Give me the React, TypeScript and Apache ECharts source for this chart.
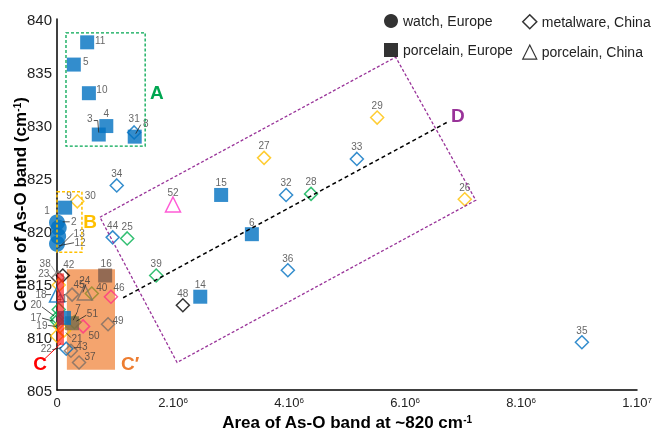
import React, { useEffect, useRef } from 'react';
import * as echarts from 'echarts';

// x values are in units of 10^6
const xTickLabels: Record<number, string> = { 0: '0', 2: '2.10{s|6}', 4: '4.10{s|6}', 6: '6.10{s|6}', 8: '8.10{s|6}', 10: '1.10{s|7}' };

type P = [string, number, number];

const watchEurope: P[] = [
  ['1', 0, 820.8], ['2', 0.03, 820.3], ['13', 0.02, 819.5], ['12', 0, 818.8],
];
const porcelainEurope: P[] = [
  ['11', 0.52, 837.8], ['5', 0.29, 835.7], ['10', 0.55, 833.0], ['3', 0.72, 829.1], ['4', 0.85, 829.9],
  ['8', 1.34, 828.9], ['15', 2.83, 823.4], ['6', 3.36, 819.7], ['14', 2.47, 813.8], ['9', 0.14, 822.2],
  ['16', 0.83, 815.8], ['7', 0.26, 811.3], ['u1', 0.12, 811.8],
];
const porcelainChina: P[] = [
  ['52', 2.0, 822.5], ['24', 0.48, 814.2], ['18', 0, 814.0],
];
const metalwareChina: P[] = [
  ['34', 1.03, 824.3], ['30', 0.35, 822.8], ['44', 0.96, 819.4], ['25', 1.21, 819.3], ['39', 1.71, 815.8],
  ['48', 2.17, 813.0], ['27', 3.57, 826.9], ['29', 5.52, 830.7], ['33', 5.17, 826.8], ['32', 3.95, 823.4],
  ['28', 4.38, 823.5], ['26', 7.03, 823.0], ['36', 3.98, 816.3], ['35', 9.05, 809.5], ['31', 1.33, 829.3],
  ['42', 0.1, 815.8], ['45', 0.26, 814.0], ['40', 0.6, 814.1], ['46', 0.93, 813.8], ['49', 0.88, 811.2],
  ['50', 0.45, 811.0], ['51', 0.3, 811.4], ['22', 0.16, 808.9], ['43', 0.24, 808.7], ['37', 0.38, 807.6],
  ['23', 0.03, 814.9], ['41', 0.03, 812.6], ['20', 0, 811.8], ['17', 0, 811.5], ['19', 0.05, 811.0],
  ['21', 0.12, 810.6], ['38', 0.02, 815.6], ['u2', 0, 810.1],
];

// ---- styling (kept apart from the data) ----
const BLUE = '#0070C0', ORANGE = '#FFC000', GREEN = '#00B050', BLACK = '#000000', GRAY = '#7A6E66',
  OLIVE = '#8C8C2A', PINK = '#FF3385', MAGENTA = '#FF33CC', BROWN = '#7B5B4C', BROWN2 = '#756A48';
const colorGroups: [string, string[]][] = [
  [BLUE, ['1', '2', '13', '12', '11', '5', '10', '3', '4', '8', '15', '6', '14', '9', 'u1', '18', '34', '44', '33', '32', '36', '35', '31', '22']],
  [ORANGE, ['30', '27', '29', '26', '23', '19', '21', 'u2']],
  [GREEN, ['25', '39', '28', '41', '20', '17']],
  [BLACK, ['48', '42']],
  [GRAY, ['45', '49', '43', '37', '38', '24']],
  [OLIVE, ['40', '51']],
  [PINK, ['46', '50']],
  [MAGENTA, ['52']],
  [BROWN, ['16']],
  [BROWN2, ['7']],
];
const colorOf: Record<string, string> = {};
colorGroups.forEach(([c, ids]) => ids.forEach((id) => (colorOf[id] = c)));

const labelOff: Record<string, [number, number]> = {
  '11': [13, -2], '5': [12, -3], '10': [13, -4], '3': [-9, -16], '4': [0, -13], '8': [11, -13], '31': [0, -14],
  '16': [1, -12], '9': [4, -12], '30': [13, -6], '1': [-10, -12], '2': [15, -6], '13': [21, -3], '12': [23, -1],
  '18': [-16, 0], '42': [6, -11], '45': [7, -10], '40': [10, -6], '46': [8, -9], '49': [10, -4], '50': [11, 9],
  '51': [18, -9], '7': [6, -15], '43': [11, -4], '37': [11, -6], '22': [-20, 0], '23': [-15, -12], '38': [-13, -14],
  '41': [3, -11], '20': [-21, -13], '17': [-21, -4], '19': [-18, -1], '21': [13, 8],
};
const leaders: Record<string, number[][]> = {
  '3': [[-5, -14], [-1, -14], [0, -2]],
  '8': [[6, -12], [1, -3]],
  '2': [[4, -6], [11, -6]],
  '13': [[0, 12], [15, -3]],
  '12': [[2, 2], [17, -1]],
  '38': [[-7, -12], [-1, -3]],
  '23': [[-10, -10], [-3, -3]],
  '18': [[-11, 0], [-6, 0]],
  '20': [[-15, -11], [-3, -2]],
  '17': [[-15, -3], [-4, 0]],
  '19': [[-12, -1], [-4, 0]],
  '21': [[7, 7], [2, 2]],
  '22': [[-14, 1], [-5, -1]],
  '7': [[5, -11], [1, -3]],
  '51': [[12, -7], [2, -1]],
  '43': [[3, -3], [6, -3]],
  '24': [[1, -8], [-2, 0]],
};

// annotation shapes, in data coordinates
const boxA = [[0.155, 828.0], [1.52, 838.7]];
const boxB = [[0, 818.0], [0.43, 823.7]];
const boxC = [[0, 809.25], [0.12, 816.0]];
const boxC2 = [[0.17, 806.9], [1.0, 816.4]];
const polyD = [[0.74, 821.3], [5.84, 836.4], [7.22, 822.9], [2.07, 807.6]];
const trendLine = [[1.14, 813.7], [6.74, 830.3]];
const lineC = [[-0.24, 807.8], [0.07, 809.4]];
const regionLabels: [string, number, number, string][] = [
  ['A', 1.72, 833.1, '#00A651'], ['B', 0.57, 820.85, ORANGE], ['C', -0.29, 807.5, '#FF0000'],
  ['C\u2032', 1.26, 807.5, '#ED7D31'], ['D', 6.91, 830.85, '#993399'],
];

const FONT = '"Liberation Sans", Arial, sans-serif';

export default function App() {
  const ref = useRef<HTMLDivElement>(null);
  useEffect(() => {
    const chart = echarts.init(ref.current!, null, { renderer: 'svg' });
    const allPts: Record<string, [number, number]> = {};
    [watchEurope, porcelainEurope, porcelainChina, metalwareChina].forEach((arr) =>
      arr.forEach(([id, x, y]) => (allPts[id] = [x, y])));

    const mk = (name: string, symbol: string, size: number, arr: P[], hollow: boolean) => ({
      type: 'scatter', name, symbol, symbolSize: size, z: 2,
      itemStyle: hollow ? { color: 'transparent', borderColor: '#000', borderWidth: 1.5 } : { color: '#000' },
      label: { show: true, position: 'inside', color: '#404040', fontSize: 10, fontFamily: FONT, formatter: (p: any) => p.name },
      emphasis: { disabled: true },
      data: arr.map(([id, x, y]) => ({
        value: [x, y], name: id,
        itemStyle: hollow
          ? { color: 'transparent', borderColor: colorOf[id], borderWidth: 1.5 }
          : { color: colorOf[id] },
        label: { show: !id.startsWith('u'), offset: labelOff[id] || [0, -12] },
      })),
    });

    const rectOf = (api: any, b: number[][], style: any) => {
      const p1 = api.coord([b[0][0], b[1][1]]);
      const p2 = api.coord([b[1][0], b[0][1]]);
      return { type: 'rect', shape: { x: p1[0], y: p1[1], width: p2[0] - p1[0], height: p2[1] - p1[1] }, style };
    };

    const legendBase = {
      orient: 'vertical', top: 9, itemGap: 15, itemWidth: 14, itemHeight: 14, selectedMode: false,
      textStyle: { fontSize: 14, color: '#222', fontFamily: FONT },
    };
    const nameStyle = {
      fontSize: 17, fontWeight: 'bold', color: '#000', fontFamily: FONT,
      rich: { sup: { fontSize: 10, fontWeight: 'bold', verticalAlign: 'top', color: '#000', fontFamily: FONT } },
    };

    const option: any = {
      animation: false,
      grid: { left: 57, right: 19, top: 19, bottom: 42, containLabel: false, outerBoundsMode: 'none' },
      legend: [
        {
          ...legendBase, left: 379,
          data: [
            { name: 'watch, Europe', icon: 'circle', itemStyle: { color: '#000' } },
            { name: 'porcelain, Europe', icon: 'rect', itemStyle: { color: '#000' } },
          ],
        },
        {
          ...legendBase, left: 517,
          data: [
            { name: 'metalware, China', icon: 'diamond', itemStyle: { color: '#fff', borderColor: '#000', borderWidth: 1.5 } },
            { name: 'porcelain, China', icon: 'triangle', itemStyle: { color: '#fff', borderColor: '#000', borderWidth: 1.2 } },
          ],
        },
      ],
      xAxis: {
        type: 'value', min: 0, max: 10, interval: 2,
        name: 'Area of As-O band at ~820 cm{sup|-1}', nameLocation: 'middle', nameGap: 24, nameMoveOverlap: false,
        nameTextStyle: nameStyle,
        axisLine: { lineStyle: { color: '#000', width: 1.5 } },
        axisTick: { show: false }, splitLine: { show: false },
        axisLabel: {
          fontSize: 13, color: '#222', fontFamily: FONT, margin: 6,
          formatter: (v: number) => xTickLabels[v] ?? String(v),
          rich: { s: { fontSize: 8, verticalAlign: 'top', color: '#222', fontFamily: FONT } },
        },
      },
      yAxis: {
        type: 'value', min: 805, max: 840, interval: 5,
        name: 'Center of As-O band (cm{sup|-1})', nameLocation: 'middle', nameGap: 28, nameRotate: 90, nameMoveOverlap: false,
        nameTextStyle: nameStyle,
        axisLine: { show: true, lineStyle: { color: '#000', width: 1.5 } },
        axisTick: { show: false }, splitLine: { show: false },
        axisLabel: { fontSize: 15, color: '#222', fontFamily: FONT, margin: 5 },
      },
      series: [
        {
          type: 'custom', z: 1, silent: true, data: [[0, 810]],
          renderItem: (_p: any, api: any) => ({
            type: 'group',
            children: [rectOf(api, boxC2, { fill: '#F4A46E' })],
          }),
        },
        mk('metalware, China', 'diamond', 13, metalwareChina, true),
        mk('porcelain, Europe', 'rect', 14, porcelainEurope, false),
        mk('watch, Europe', 'circle', 16, watchEurope, false),
        mk('porcelain, China', 'triangle', 15, porcelainChina, true),
        {
          type: 'custom', z: 3, silent: true, data: [[0, 810]],
          renderItem: (_p: any, api: any) => {
            const children: any[] = [];
            children.push(rectOf(api, boxC, { fill: 'rgba(255,0,0,0.6)' }));
            children.push(rectOf(api, boxA, { fill: 'none', stroke: '#00A651', lineWidth: 1.3, lineDash: [3, 2] }));
            children.push(rectOf(api, boxB, { fill: 'none', stroke: ORANGE, lineWidth: 1.5, lineDash: [3, 2] }));
            children.push({ type: 'polygon', shape: { points: polyD.map((p) => api.coord(p)) },
              style: { fill: 'none', stroke: '#993399', lineWidth: 1.3, lineDash: [3, 2] } });
            const t0 = api.coord(trendLine[0]), t1 = api.coord(trendLine[1]);
            children.push({ type: 'line', shape: { x1: t0[0], y1: t0[1], x2: t1[0], y2: t1[1] },
              style: { stroke: '#000', lineWidth: 1.5, lineDash: [4, 3] } });
            const c0 = api.coord(lineC[0]), c1 = api.coord(lineC[1]);
            children.push({ type: 'line', shape: { x1: c0[0], y1: c0[1], x2: c1[0], y2: c1[1] },
              style: { stroke: '#FF0000', lineWidth: 1 } });
            Object.keys(leaders).forEach((id) => {
              const c = api.coord(allPts[id]);
              children.push({ type: 'polyline', shape: { points: leaders[id].map(([dx, dy]) => [c[0] + dx, c[1] + dy]) },
                style: { fill: 'none', stroke: id === '38' ? '#999' : '#222', lineWidth: 0.8 } });
            });
            regionLabels.forEach(([t, x, y, col]) => {
              const c = api.coord([x, y]);
              children.push({ type: 'text', x: c[0], y: c[1],
                style: { text: t, fill: col, font: `bold 19px ${FONT}`, align: 'center', verticalAlign: 'middle' } });
            });
            return { type: 'group', children };
          },
        },
      ],
    };
    chart.setOption(option);
    return () => chart.dispose();
  }, []);
  return <div ref={ref} style={{ position: 'fixed', left: 0, top: 0, width: 656, height: 432 }} />;
}
